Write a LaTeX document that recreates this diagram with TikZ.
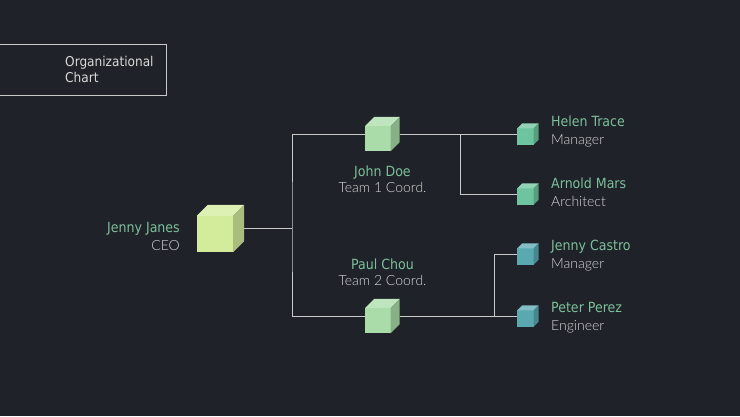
\documentclass[tikz,border=0pt]{standalone}
\usepackage{fontspec}
\setmainfont{Lato}
\newfontfamily\jobfont{Lato Light}
\newfontfamily\namefont{DejaVu Sans Condensed}
\usetikzlibrary{calc}
\usetikzlibrary{positioning}
\definecolor{bgcol}{HTML}{1F2229}
\definecolor{linecol}{HTML}{C9C9C9}
\definecolor{namecol}{HTML}{7CC09A}
\definecolor{rolecol}{HTML}{D8D8D8}
\definecolor{ceoc}{HTML}{D3EC9C}
\definecolor{teamc}{HTML}{A9DCA8}
\definecolor{onec}{HTML}{6DC49E}
\definecolor{twoc}{HTML}{5AA9B1}

\begin{document}
\begin{tikzpicture}[
        x=1pt, y=-1pt,
        cube/.style={rectangle, minimum size=#1, inner sep=0},
        link/.style={draw=linecol, line width=1pt},
        person/.style={font=\namefont\fontsize{14}{14}\selectfont, text=namecol, inner sep=0},
        job/.style={font=\jobfont\fontsize{14}{14}\selectfont, text=rolecol, inner sep=0}
    ]
        % 背景与边界
        \fill[bgcol] (0,0) rectangle (740,416);
        \useasboundingbox (0,0) rectangle (740,416);

        % 标题框
        \draw[linecol, line width=0.8pt] (-5,44) rectangle (166,95);
        \node[person, text=rolecol, font=\namefont\fontsize{13.5}{14}\selectfont, anchor=base west] (title1) at (65,66) {Organizational};
        \node[person, text=rolecol, font=\namefont\fontsize{13.5}{14}\selectfont, anchor=base west] (title2) at (65,82) {Chart};

        % 定义成员参数
        \def\members{
            helen/Helen Trace/Manager/onec/134/126/144,
            arnold/Arnold Mars/Architect/onec/194/188/206,
            castro/Jenny Castro/Manager/twoc/254/250/268,
            peter/Peter Perez/Engineer/twoc/316/312/330
        }

        % 方块节点
        \node[cube=47] (ceo) at (220.5,228.5) {};
        \node[cube=34] (john) at (382.5,134) {};
        \node[cube=34] (paul) at (382.5,316) {};
        \foreach \id/\who/\role/\c/\y/\ya/\yb in \members {
            \node[cube=21] (\id) at (528,\y) {};
            \node[person, anchor=base west] (\id-name) at (551,\ya) {\who};
            \node[job, anchor=base west] (\id-role) at (551,\yb) {\role};
        }

        % 文字
        \node[person, anchor=base east] (ceo-name) at (180,232) {Jenny Janes};
        \node[job, anchor=base east] (ceo-role) at (180,250) {CEO};
        \node[person, anchor=base] (john-name) at (382.5,176) {John Doe};
        \node[job, anchor=base] (john-role) at (382.5,192) {Team 1 Coord.};
        \node[person, anchor=base] (paul-name) at (382.5,269) {Paul Chou};
        \node[job, anchor=base] (paul-role) at (382.5,285) {Team 2 Coord.};

        % 连接线
        \coordinate (hub) at (292,228.5);
        \coordinate (t1) at ($(john.east)!0.52!(helen.west)$);
        \coordinate (t2) at (494,316);
        \draw[link] (ceo.east) -- (hub);
        \draw[link] (john.west) -| (hub) |- (paul.west);
        \draw[link] (john.east) -- (helen.west);
        \draw[link] (t1) |- (arnold.west);
        \draw[link] (paul.east) -- (peter.west);
        \draw[link] (t2) |- (castro.west);

        % 绘制立方体
        \foreach \n/\d/\c in {ceo/11/ceoc, john/9/teamc, paul/9/teamc,
                helen/5/onec, arnold/5/onec, castro/5/twoc, peter/5/twoc} {
            \fill[\c] (\n.south west) rectangle ([shift={(-\d,\d)}]\n.north east);
            \fill[\c!75!white] ([shift={(0,\d)}]\n.north west) -- ([shift={(\d,0)}]\n.north west)
                -- (\n.north east) -- ([shift={(-\d,\d)}]\n.north east) -- cycle;
            \fill[\c!80!black] ([shift={(-\d,\d)}]\n.north east) -- (\n.north east)
                -- ([shift={(0,-\d)}]\n.south east) -- ([shift={(-\d,0)}]\n.south east) -- cycle;
        }
    \end{tikzpicture}
\end{document}
